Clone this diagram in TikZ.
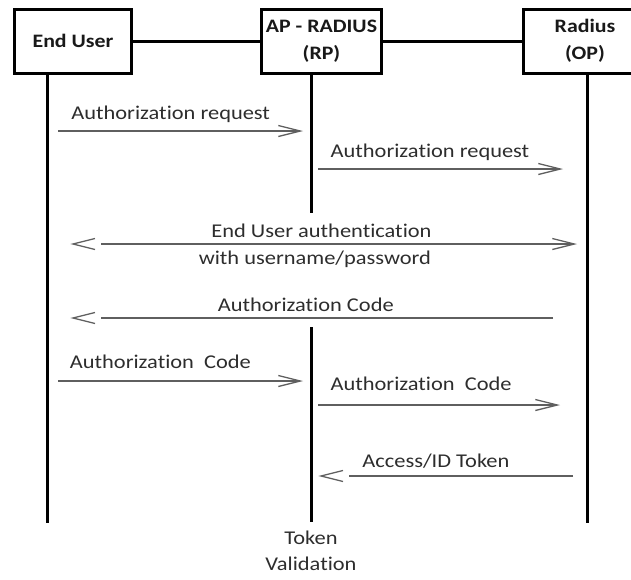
\documentclass[tikz,border=0pt]{standalone}
\usepackage{fontspec}
\setmainfont{Carlito}[FakeStretch=1.15, Ligatures=NoCommon]
\usetikzlibrary{arrows.meta}
\definecolor{msgline}{RGB}{95,95,95}
\definecolor{msgtext}{RGB}{45,45,45}
\tikzset{
  actor/.style={draw=black, line width=3pt, fill=white, inner sep=0pt,
    align=center, text=black!90, font=\fontsize{19}{27}\selectfont\bfseries},
  link/.style={line width=3pt},
  life/.style={line width=3pt},
  msg/.style={draw=msgline, line width=1.3pt},
  barb/.tip={Straight Barb[length=22pt,width=11pt]},
  lbl/.style={text=msgtext, inner sep=0pt, anchor=base,
    font=\fontsize{19.5}{26}\selectfont},
  % a message line that stops short of its left-pointing head
  gapline/.style={msg, shorten >=28pt},
}
% left-pointing open head, drawn apart from its line, tip at #1
\newcommand\leftbarb[1]{%
  \draw[msg, line join=miter] ([shift={(22,-5.5)}]#1) -- (#1) -- ([shift={(22,5.5)}]#1);}
\begin{document}
\begin{tikzpicture}[x=1pt,y=-1pt]
\useasboundingbox (0,0) rectangle (631,579);

% participants
\node[actor, minimum width=117pt, minimum height=64pt] (eu) at (73,41) {End User};
\node[actor, minimum width=120pt, minimum height=64pt] (rp) at (321.5,41) {AP - RADIUS\\(RP)};
\node[actor, minimum width=124pt, minimum height=64pt] (op) at (585,41) {Radius\\(OP)};
\draw[link] (eu.east) -- (rp.west);
\draw[link] (rp.east) -- (op.west);

% lifelines
\coordinate (l1) at (47,523);
\coordinate (m1) at (311,213);
\coordinate (m2) at (311,327);
\coordinate (m3) at (311,522);
\coordinate (r1) at (587,523);
\draw[life] (eu.south -| l1) -- (l1);
\draw[life] (rp.south -| m1) -- (m1);
\draw[life] (m2) -- (m3);
\draw[life] (op.south -| r1) -- (r1);
\node[lbl, anchor=center, align=center] (tv) at (311,551) {Token\\Validation};

% message end points
\coordinate (a1s) at (58,131);   \coordinate (a1e) at (303,131);
\coordinate (a2s) at (318,169);  \coordinate (a2e) at (563,169);
\coordinate (a3s) at (577,244);  \coordinate (a3e) at (73,244);
\coordinate (a4s) at (553,318);  \coordinate (a4e) at (73,318);
\coordinate (a5s) at (58,381);   \coordinate (a5e) at (303,381);
\coordinate (a6s) at (318,405);  \coordinate (a6e) at (560,405);
\coordinate (a7s) at (573,476);  \coordinate (a7e) at (321,476);

% messages
\draw[msg, -barb] (a1s) -- node[lbl, pos=.46, yshift=12pt] {Authorization request} (a1e);
\draw[msg, -barb] (a2s) -- node[lbl, pos=.457, yshift=12pt] {Authorization request} (a2e);
\draw[gapline, barb-] (a3s) --
  node[lbl, pos=.507, yshift=7pt] {End User authentication}
  node[lbl, pos=.52, yshift=-20pt] {with username/password} (a3e);
\leftbarb{a3e}
\draw[gapline] (a4s) -- node[lbl, pos=.515, yshift=7pt] {Authorization Code} (a4e);
\leftbarb{a4e}
\draw[msg, -barb] (a5s) -- node[lbl, pos=.418, yshift=13pt] {Authorization\ \ Code} (a5e);
\draw[msg, -barb] (a6s) -- node[lbl, pos=.426, yshift=15pt] {Authorization\ \ Code} (a6e);
\draw[gapline] (a7s) -- node[lbl, pos=.544, yshift=9pt] {Access/ID Token} (a7e);
\leftbarb{a7e}
\end{tikzpicture}
\end{document}
